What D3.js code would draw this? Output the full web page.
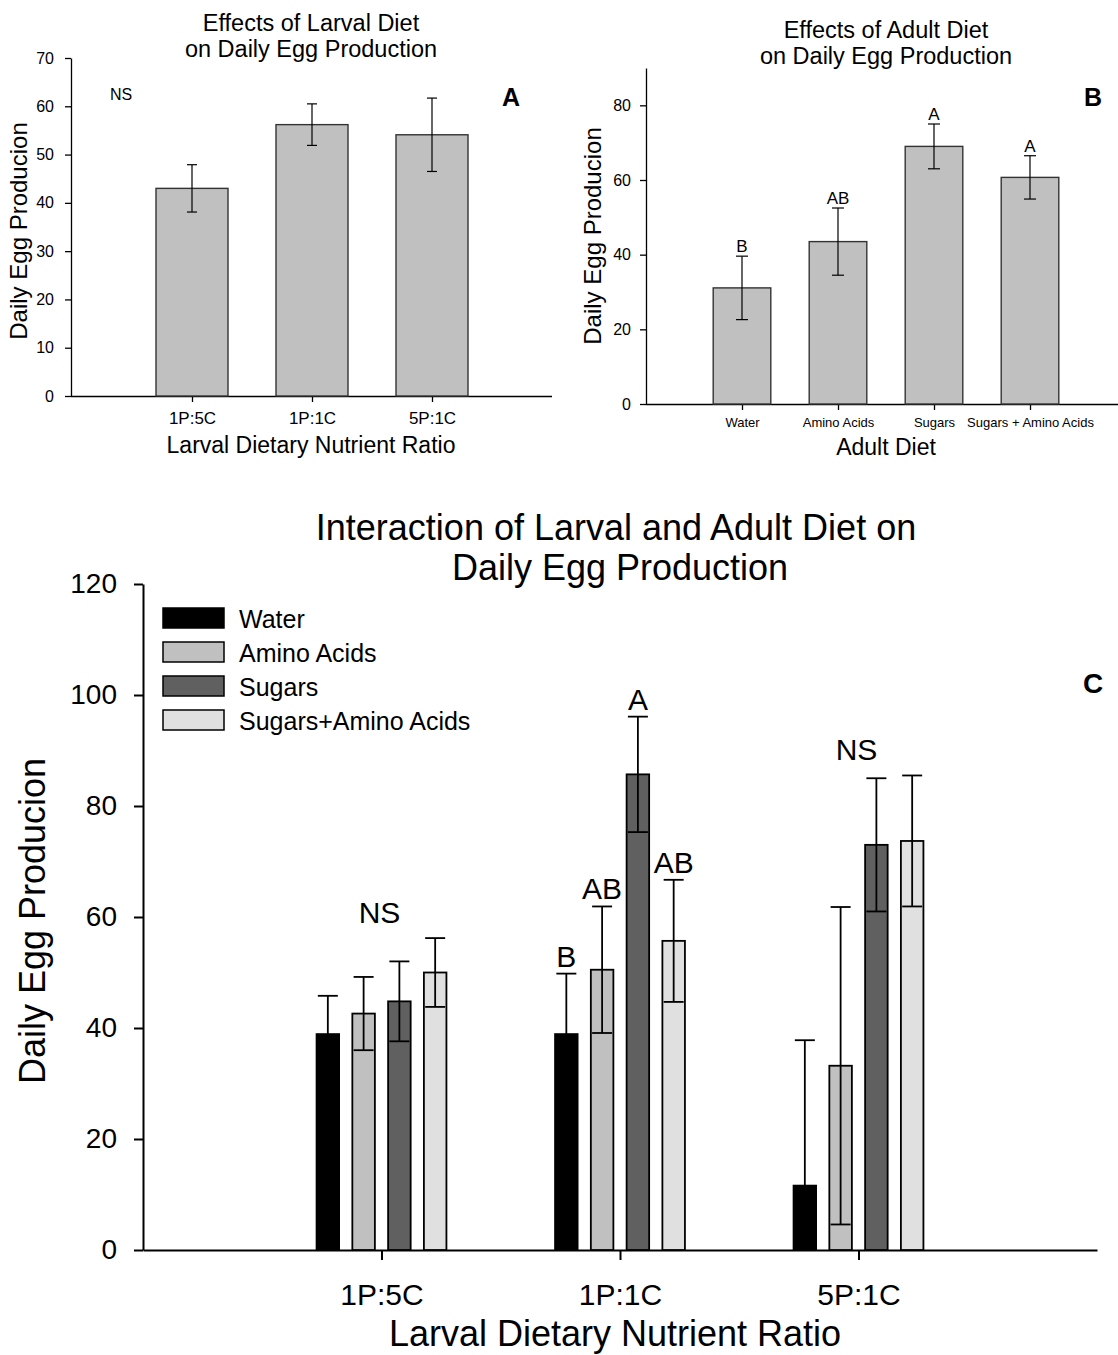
<!DOCTYPE html>
<html>
<head>
<meta charset="utf-8">
<script src="https://cdn.jsdelivr.net/npm/d3@7"></script>
<style>
  body { margin: 0; background: #fff; }
  svg { display: block; font-family: Arial, "Liberation Sans", sans-serif; }
</style>
</head>
<body>
<svg id="fig" width="1118" height="1355"></svg>
<script>
// Panel A - larval diet only
var larvalRatios = ["1P:5C", "1P:1C", "5P:1C"];
var larvalMeans = [43.0, 56.2, 54.1];
var larvalErrors = [4.9, 4.3, 7.6];
var larvalTicks = [0, 10, 20, 30, 40, 50, 60, 70];

// Panel B - adult diet only
var adultDiets = ["Water", "Amino Acids", "Sugars", "Sugars + Amino Acids"];
var adultMeans = [31.1, 43.5, 69.0, 60.7];
var adultErrors = [8.5, 9.0, 6.0, 5.8];
var adultLetters = ["B", "AB", "A", "A"];
var adultTicks = [0, 20, 40, 60, 80];

// Panel C - interaction, one array per adult diet across the larval ratios
var seriesNames = ["Water", "Amino Acids", "Sugars", "Sugars+Amino Acids"];
var waterMeans = [38.9, 38.9, 11.6];
var aminoMeans = [42.6, 50.5, 33.2];
var sugarMeans = [44.8, 85.7, 73.0];
var sugarAminoMeans = [50.0, 55.7, 73.7];
var waterErrors = [6.9, 10.9, 26.2];
var aminoErrors = [6.6, 11.4, 28.6];
var sugarErrors = [7.2, 10.4, 12.0];
var sugarAminoErrors = [6.2, 11.0, 11.8];
var groupLetters = ["NS", "", "NS"];
var barLetters = [["", "", "", ""], ["B", "AB", "A", "AB"], ["", "", "", ""]];
var interactionTicks = [0, 20, 40, 60, 80, 100, 120];

var svg = d3.select("#fig");

// Small panels (A and B) share the same look
function drawSimplePanel(cfg) {
  var g = svg.append("g");
  var x = d3.scalePoint().domain(cfg.cats).range(cfg.xRange).padding(1);
  var y = d3.scaleLinear().domain(cfg.yDomain).range(cfg.yRange);
  var barW = x.step() * 0.6;

  var xAxis = g.append("g")
    .attr("transform", "translate(0," + cfg.yRange[0] + ")")
    .call(d3.axisBottom(x).tickSize(6).tickSizeOuter(0).tickPadding(cfg.xPad));
  xAxis.selectAll("text").style("font-size", cfg.xFont + "px").attr("fill", "#000");
  xAxis.select(".domain").attr("d", "M" + cfg.axisX + ",0.5H" + cfg.xRange[1]);

  var yAxis = g.append("g")
    .attr("transform", "translate(" + cfg.axisX + ",0)")
    .call(d3.axisLeft(y).tickValues(cfg.ticks).tickSize(6).tickSizeOuter(0).tickPadding(cfg.yPad));
  yAxis.selectAll("text").style("font-size", "16px").attr("fill", "#000");
  g.selectAll(".domain, .tick line").attr("stroke", "#000").attr("stroke-width", 1.3);

  g.selectAll("rect.bar")
    .data(cfg.means)
    .enter().append("rect")
    .attr("class", "bar")
    .attr("x", function(d, i) { return x(cfg.cats[i]) - barW / 2; })
    .attr("y", function(d) { return y(d); })
    .attr("width", barW)
    .attr("height", function(d) { return y(0) - y(d); })
    .attr("fill", "#c0c0c0")
    .attr("stroke", "#333")
    .attr("stroke-width", 1.4);

  // error bars
  var eb = g.selectAll("g.err")
    .data(cfg.means)
    .enter().append("g")
    .attr("stroke", "#000")
    .attr("stroke-width", 1.2);
  eb.append("line")
    .attr("x1", function(d, i) { return x(cfg.cats[i]); })
    .attr("x2", function(d, i) { return x(cfg.cats[i]); })
    .attr("y1", function(d, i) { return y(d - cfg.errors[i]); })
    .attr("y2", function(d, i) { return y(d + cfg.errors[i]); });
  [1, -1].forEach(function(s) {
    eb.append("line")
      .attr("x1", function(d, i) { return x(cfg.cats[i]) - cfg.cap; })
      .attr("x2", function(d, i) { return x(cfg.cats[i]) + cfg.cap; })
      .attr("y1", function(d, i) { return y(d + s * cfg.errors[i]); })
      .attr("y2", function(d, i) { return y(d + s * cfg.errors[i]); });
  });

  // title, axis labels
  cfg.title.forEach(function(t, i) {
    g.append("text").attr("x", cfg.titleX).attr("y", cfg.titleY + i * 26)
      .attr("text-anchor", "middle").style("font-size", "23.5px").text(t);
  });
  g.append("text").attr("x", cfg.titleX).attr("y", cfg.yRange[0] + cfg.xLabelGap)
    .attr("text-anchor", "middle").style("font-size", "23px").text(cfg.xLabel);
  g.append("text")
    .attr("transform", "translate(" + cfg.yLabelX + "," + cfg.yLabelY + ") rotate(-90)")
    .attr("text-anchor", "middle").style("font-size", "24px").text("Daily Egg Producion");
  g.append("text").attr("x", cfg.letterX).attr("y", 106)
    .attr("text-anchor", "middle").style("font-size", "25px").style("font-weight", "bold")
    .text(cfg.letter);

  return { g: g, x: x, y: y };
}

// Panel A
var panelA = drawSimplePanel({
  cats: larvalRatios, means: larvalMeans, errors: larvalErrors, ticks: larvalTicks,
  axisX: 71, xRange: [72, 552], yDomain: [0, 70], yRange: [396, 58],
  xFont: 17, xPad: 10, yPad: 11, cap: 5, xLabelGap: 57,
  title: ["Effects of Larval Diet", "on Daily Egg Production"], titleX: 311, titleY: 31,
  xLabel: "Larval Dietary Nutrient Ratio", yLabelX: 27, yLabelY: 231, letterX: 511, letter: "A"
});
panelA.g.append("text").attr("x", 121).attr("y", 100)
  .attr("text-anchor", "middle").style("font-size", "16px").text("NS");

// Panel B
var panelB = drawSimplePanel({
  cats: adultDiets, means: adultMeans, errors: adultErrors, ticks: adultTicks,
  axisX: 646, xRange: [646, 1126], yDomain: [0, 90], yRange: [404, 68],
  xFont: 13, xPad: 8, yPad: 9, cap: 6, xLabelGap: 51,
  title: ["Effects of Adult Diet", "on Daily Egg Production"], titleX: 886, titleY: 38,
  xLabel: "Adult Diet", yLabelX: 601, yLabelY: 236, letterX: 1093, letter: "B"
});
panelB.g.selectAll("text.sig")
  .data(adultLetters)
  .enter().append("text")
  .attr("class", "sig")
  .attr("x", function(d, i) { return panelB.x(adultDiets[i]); })
  .attr("y", function(d, i) { return panelB.y(adultMeans[i] + adultErrors[i]) - 4; })
  .attr("text-anchor", "middle")
  .style("font-size", "17px")
  .text(function(d) { return d; });

// Panel C - grouped bars
var means = [waterMeans, aminoMeans, sugarMeans, sugarAminoMeans];
var errors = [waterErrors, aminoErrors, sugarErrors, sugarAminoErrors];
var colors = ["#000000", "#c0c0c0", "#606060", "#e0e0e0"];
var cells = [];
larvalRatios.forEach(function(r, gi) {
  seriesNames.forEach(function(s, si) {
    cells.push({ ratio: r, gi: gi, series: s, si: si, mean: means[si][gi], err: errors[si][gi], letter: barLetters[gi][si] });
  });
});

var gc = svg.append("g");
var xC = d3.scalePoint().domain(larvalRatios).range([143, 1097]).padding(1);
var yC = d3.scaleLinear().domain([0, 120]).range([1250, 584]);
var xSub = d3.scaleBand().domain(seriesNames)
  .range([-xC.step() * 0.3, xC.step() * 0.3]).paddingInner(0.37).paddingOuter(0.185);

var xAxisC = gc.append("g")
  .attr("transform", "translate(0,1250)")
  .call(d3.axisBottom(xC).tickSize(10).tickSizeOuter(0).tickPadding(24));
xAxisC.selectAll("text").style("font-size", "30px").attr("fill", "#000");
var yAxisC = gc.append("g")
  .attr("transform", "translate(143,0)")
  .call(d3.axisLeft(yC).tickValues(interactionTicks).tickSize(9).tickSizeOuter(0).tickPadding(17));
yAxisC.selectAll("text").style("font-size", "28px").attr("fill", "#000");
gc.selectAll(".domain, .tick line").attr("stroke", "#000").attr("stroke-width", 2);

gc.selectAll("rect.cbar")
  .data(cells)
  .enter().append("rect")
  .attr("class", "cbar")
  .attr("x", function(d) { return xC(d.ratio) + xSub(d.series); })
  .attr("y", function(d) { return yC(d.mean); })
  .attr("width", xSub.bandwidth())
  .attr("height", function(d) { return yC(0) - yC(d.mean); })
  .attr("fill", function(d) { return colors[d.si]; })
  .attr("stroke", "#000")
  .attr("stroke-width", 1.8);

// error bars, the lower half is dropped when it would cross zero
var ebC = gc.selectAll("g.cerr")
  .data(cells)
  .enter().append("g")
  .attr("stroke", "#000")
  .attr("stroke-width", 1.8);
function cxOf(d) { return xC(d.ratio) + xSub(d.series) + xSub.bandwidth() / 2; }
ebC.append("line")
  .attr("x1", cxOf).attr("x2", cxOf)
  .attr("y1", function(d) { return yC(Math.max(0, d.mean - d.err)); })
  .attr("y2", function(d) { return yC(d.mean + d.err); });
ebC.append("line")
  .attr("x1", function(d) { return cxOf(d) - 10; })
  .attr("x2", function(d) { return cxOf(d) + 10; })
  .attr("y1", function(d) { return yC(d.mean + d.err); })
  .attr("y2", function(d) { return yC(d.mean + d.err); });
ebC.filter(function(d) { return d.mean - d.err > 0; }).append("line")
  .attr("x1", function(d) { return cxOf(d) - 10; })
  .attr("x2", function(d) { return cxOf(d) + 10; })
  .attr("y1", function(d) { return yC(d.mean - d.err); })
  .attr("y2", function(d) { return yC(d.mean - d.err); });

// significance letters
gc.selectAll("text.clet")
  .data(cells.filter(function(d) { return d.letter; }))
  .enter().append("text")
  .attr("class", "clet")
  .attr("x", cxOf)
  .attr("y", function(d) { return yC(d.mean + d.err) - 7; })
  .attr("text-anchor", "middle")
  .style("font-size", "30px")
  .text(function(d) { return d.letter; });
gc.selectAll("text.cns")
  .data(larvalRatios.filter(function(r, i) { return groupLetters[i]; }))
  .enter().append("text")
  .attr("class", "cns")
  .attr("x", function(d) { return xC(d) - 2; })
  .attr("y", function(d) {
    var gi = larvalRatios.indexOf(d);
    var top = d3.max(means, function(m, si) { return m[gi] + errors[si][gi]; });
    return yC(top) - 15;
  })
  .attr("text-anchor", "middle")
  .style("font-size", "30px")
  .text(function(d) { return groupLetters[larvalRatios.indexOf(d)]; });

// legend
var legend = gc.selectAll("g.leg")
  .data(seriesNames)
  .enter().append("g")
  .attr("transform", function(d, i) { return "translate(163," + (608 + i * 34) + ")"; });
legend.append("rect")
  .attr("width", 61).attr("height", 20)
  .attr("fill", function(d, i) { return colors[i]; })
  .attr("stroke", "#000").attr("stroke-width", 1.5);
legend.append("text")
  .attr("x", 76).attr("y", 20)
  .style("font-size", "25px")
  .text(function(d) { return d; });

// titles and labels
gc.append("text").attr("x", 616).attr("y", 540).attr("text-anchor", "middle")
  .style("font-size", "36px").text("Interaction of Larval and Adult Diet on");
gc.append("text").attr("x", 620).attr("y", 580).attr("text-anchor", "middle")
  .style("font-size", "36px").text("Daily Egg Production");
gc.append("text").attr("x", 615).attr("y", 1346).attr("text-anchor", "middle")
  .style("font-size", "36px").text("Larval Dietary Nutrient Ratio");
gc.append("text").attr("transform", "translate(45,921) rotate(-90)").attr("text-anchor", "middle")
  .style("font-size", "36px").text("Daily Egg Producion");
gc.append("text").attr("x", 1093).attr("y", 693).attr("text-anchor", "middle")
  .style("font-size", "28px").style("font-weight", "bold").text("C");
</script>
</body>
</html>
